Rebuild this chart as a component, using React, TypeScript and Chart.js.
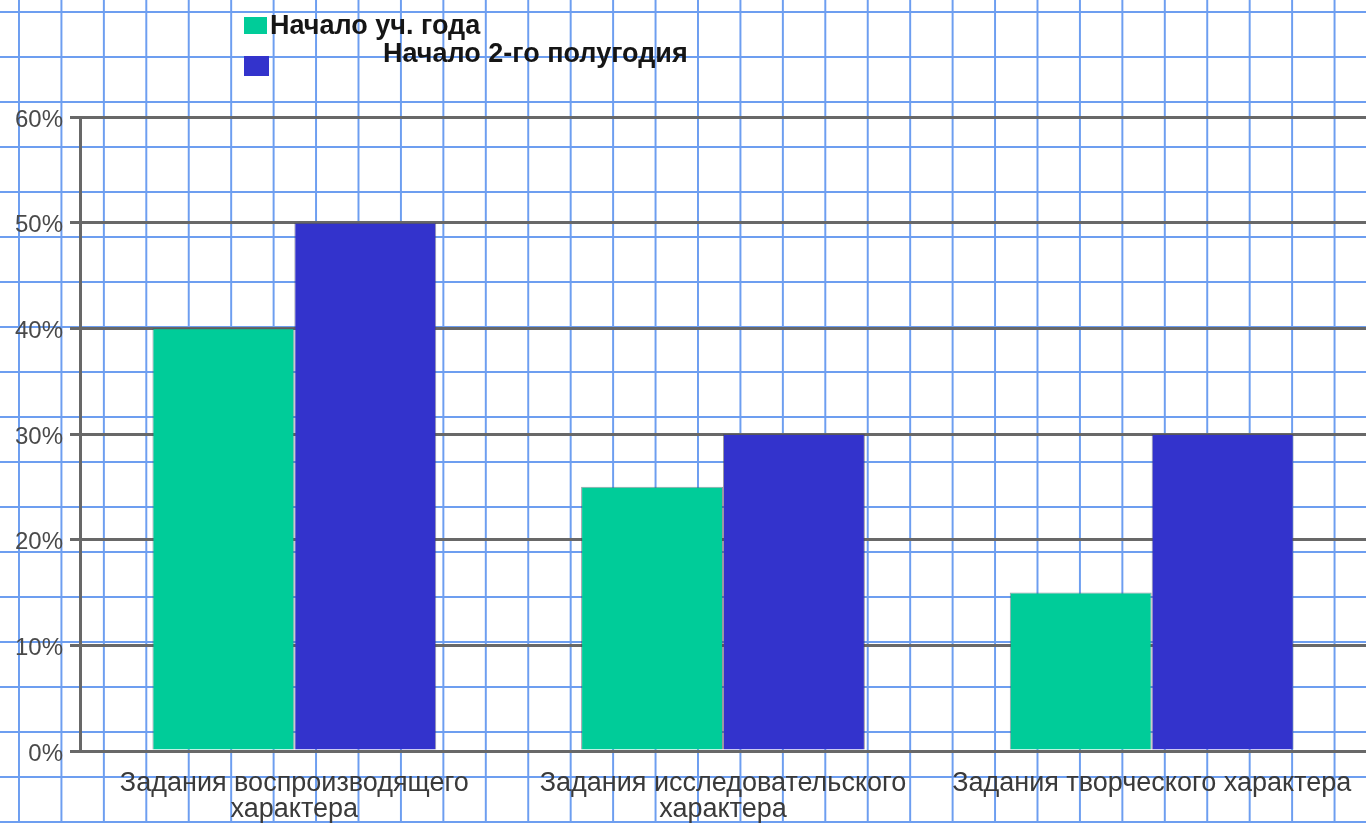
import React, { useEffect, useRef } from "react";
import { Chart, registerables } from "chart.js";

Chart.register(...registerables);

const categories: (string | string[])[] = [
  ["Задания воспроизводящего", "характера"],
  ["Задания исследовательского", "характера"],
  "Задания творческого характера",
];
const seriesNames = ["Начало уч. года", "Начало 2-го полугодия"];
const startOfYear = [40, 25, 15];
const startOfSecondHalf = [50, 30, 30];
const yTicks = [0, 10, 20, 30, 40, 50, 60];

const FONT = "'Liberation Sans', Arial, sans-serif";

const legendLayout = [
  { box: { x: 244, y: 17, w: 23, h: 17 }, text: { x: 270, y: 27 } },
  { box: { x: 244, y: 56, w: 25, h: 20 }, text: { x: 383, y: 55 } },
];

const customLegend = {
  id: "customLegend",
  afterDraw(chart: any) {
    const ctx = chart.ctx;
    ctx.save();
    chart.data.datasets.forEach((ds: any, i: number) => {
      const l = legendLayout[i];
      if (!l) return;
      ctx.fillStyle = ds.backgroundColor;
      ctx.fillRect(l.box.x, l.box.y, l.box.w, l.box.h);
      ctx.fillStyle = "#151515";
      ctx.font = `bold 27px ${FONT}`;
      ctx.textBaseline = "middle";
      ctx.textAlign = "left";
      ctx.fillText(ds.label, l.text.x, l.text.y);
    });
    ctx.restore();
  },
};

export default function App() {
  const canvasRef = useRef<HTMLCanvasElement>(null);

  useEffect(() => {
    document.body.style.margin = "0";
    const canvas = canvasRef.current;
    if (!canvas) return;
    const chart = new Chart(canvas, {
      type: "bar",
      data: {
        labels: categories,
        datasets: [
          {
            label: seriesNames[0],
            data: startOfYear,
            backgroundColor: "#00CC99",
            borderColor: "rgba(70,70,90,0.55)",
            borderWidth: 1,
            barPercentage: 1,
            categoryPercentage: 0.662,
          },
          {
            label: seriesNames[1],
            data: startOfSecondHalf,
            backgroundColor: "#3333CC",
            borderColor: "rgba(70,70,90,0.55)",
            borderWidth: 1,
            barPercentage: 1,
            categoryPercentage: 0.662,
          },
        ],
      },
      options: {
        animation: false,
        responsive: true,
        maintainAspectRatio: false,
        layout: { padding: { top: 117, left: 0, right: 0, bottom: 0 } },
        plugins: {
          legend: { display: false },
          tooltip: { enabled: false },
          title: { display: false },
        },
        scales: {
          x: {
            grid: { display: false, drawTicks: false },
            border: { display: false },
            ticks: {
              color: "#3a3a3a",
              padding: 20,
              maxRotation: 0,
              autoSkip: false,
              font: { family: FONT, size: 27, lineHeight: 0.963 },
            },
            afterFit: (s: any) => {
              s.height = 72;
              s.paddingLeft = 0;
              s.paddingRight = 0;
            },
          },
          y: {
            min: 0,
            max: 60,
            afterBuildTicks: (s: any) => {
              s.ticks = yTicks.map((v) => ({ value: v }));
            },
            grid: {
              color: "#686868",
              lineWidth: 3,
              tickLength: 10,
              drawTicks: true,
            },
            border: { display: true, color: "#686868", width: 3 },
            ticks: {
              color: "#4a4a4a",
              padding: 7,
              labelOffset: 3,
              font: { family: FONT, size: 24 },
              callback: (v: any) => `${v}%`,
            },
            afterFit: (s: any) => {
              s.width = 80;
            },
          },
        },
      },
      plugins: [customLegend],
    });
    return () => chart.destroy();
  }, []);

  const gridColor = "#6d9ef0";
  return (
    <div
      style={{
        position: "fixed",
        left: 0,
        top: 0,
        width: 1366,
        height: 823,
        backgroundColor: "#ffffff",
        backgroundImage: `linear-gradient(to right, ${gridColor} 2px, transparent 2px), linear-gradient(to bottom, ${gridColor} 2px, transparent 2px)`,
        backgroundSize: "42.45px 45px",
        backgroundPosition: "18px 11px",
      }}
    >
      <canvas ref={canvasRef} />
    </div>
  );
}
